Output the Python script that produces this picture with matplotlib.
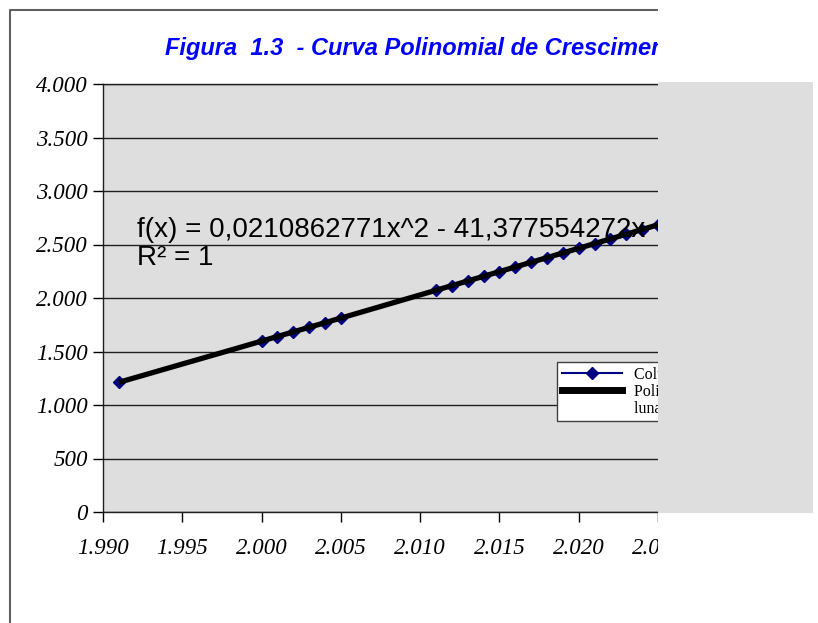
import matplotlib
matplotlib.use("Agg")
import matplotlib.pyplot as plt
import numpy as np
from matplotlib.lines import Line2D
from matplotlib.patches import Rectangle
from matplotlib.ticker import FuncFormatter, MultipleLocator

# Data (population, thousands)
years = [1991, 2000, 2001, 2002, 2003, 2004, 2005,
         2011, 2012, 2013, 2014, 2015, 2016, 2017, 2018,
         2019, 2020, 2021, 2022, 2023, 2024, 2025]
values = [1212, 1597, 1640, 1683, 1726, 1769, 1812,
          2072, 2116, 2159, 2203, 2246, 2290, 2334, 2377,
          2421, 2465, 2509, 2552, 2596, 2640, 2684]

# visible part of the (cut off) title
title = "Figura  1.3  - Curva Polinomial de Crescimen"
equation = "f(x) = 0,0210862771x^2 - 41,377554272x"
r2_text = "R² = 1"

W, H = 818, 623
fig = plt.figure(figsize=(W / 100, H / 100), dpi=100)
fig.patch.set_facecolor("white")


def px(x0, y0, x1, y1):
    # pixel box (top-left origin) -> figure fraction rect
    return [x0 / W, 1 - y1 / H, (x1 - x0) / W, (y1 - y0) / H]


ax = fig.add_axes(px(103, 84, 658, 512))
ax.set_facecolor("#dedede")

ax.plot(years, values, color="#000080", lw=1.5, marker="D", ms=6,
        mfc="#000080", mec="#000080", zorder=3)

# 2nd order polynomial trendline, like the spreadsheet one
coef = np.polyfit(years, values, 2)
xs = np.linspace(min(years), 2026, 200)
ax.plot(xs, np.polyval(coef, xs), color="black", lw=3.8, zorder=4,
        solid_capstyle="butt")

ax.set_xlim(1990, 2025)
ax.set_ylim(0, 4000)
ax.xaxis.set_major_locator(MultipleLocator(5))
ax.yaxis.set_major_locator(MultipleLocator(500))
fmt = FuncFormatter(lambda v, p: f"{v:,.0f}".replace(",", "."))
ax.xaxis.set_major_formatter(fmt)
ax.yaxis.set_major_formatter(fmt)

ax.yaxis.grid(True, color="#202020", lw=1)
ax.set_axisbelow(True)
ax.tick_params(direction="out", length=7, width=1, colors="black",
               labelsize=16.5)
ax.tick_params(axis="y", pad=4)
ax.tick_params(axis="x", pad=12)
for lab in ax.get_xticklabels() + ax.get_yticklabels():
    lab.set_family("Liberation Serif")
    lab.set_style("italic")
for side in ["left", "bottom", "top"]:
    ax.spines[side].set_color("#202020")
    ax.spines[side].set_linewidth(1)
ax.spines["right"].set_visible(False)

# equation of the trendline
fig.text(137 / W, 1 - 230 / H, equation, fontsize=20,
         family="Liberation Sans", va="center", ha="left")
fig.text(137 / W, 1 - 258 / H, r2_text, fontsize=20,
         family="Liberation Sans", va="center", ha="left")

# legend
handles = [
    Line2D([], [], color="#000080", lw=1.5, marker="D", ms=6),
    Line2D([], [], color="black", lw=5),
    Line2D([], [], color="none"),
]
labels = ["Coluna B", "Polinomial (Co", "luna B)"]
leg = ax.legend(handles, labels, loc="upper left",
                bbox_to_anchor=(557 / W, 1 - 362 / H),
                bbox_transform=fig.transFigure, borderaxespad=0,
                prop={"family": "Liberation Serif", "size": 11.5},
                handlelength=3.8, handletextpad=0.7, labelspacing=0.05,
                borderpad=0.3, fancybox=False, framealpha=1,
                edgecolor="#404040", facecolor="white")
leg.get_frame().set_linewidth(1)
leg.set_zorder(6)

# title
fig.text(165 / W, 1 - 48 / H, title, color="#0000ff", fontsize=17,
         fontweight="bold", style="italic", family="Liberation Sans",
         va="center", ha="left")

# chart frame (left and top edges)
fig.add_artist(Line2D([10 / W, 10 / W, 658 / W], [0, 1 - 10 / H, 1 - 10 / H],
                      color="#606060", lw=1.5))

# the right part of the chart is cut off
fig.add_artist(Rectangle((658 / W, 0), 1, 1, transform=fig.transFigure,
                         facecolor="white", edgecolor="none", zorder=20))
fig.add_artist(Rectangle((658 / W, 1 - 513 / H), 155 / W, 431 / H,
                         transform=fig.transFigure, facecolor="#dedede",
                         edgecolor="none", zorder=21))

fig.savefig("out.png", dpi=100)
